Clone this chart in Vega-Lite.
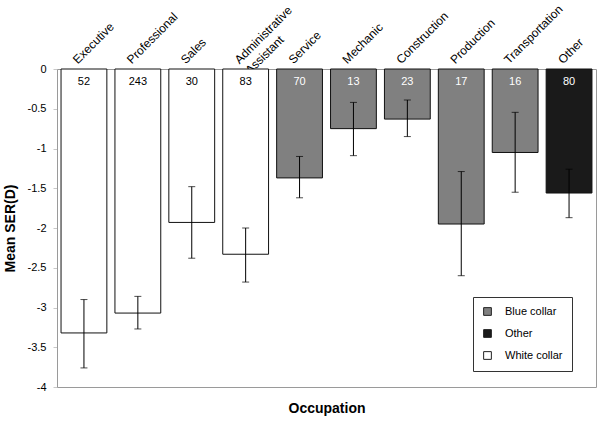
{
  "$schema": "https://vega.github.io/schema/vega-lite/v6.json",
  "width": 539,
  "height": 318,
  "autosize": "none",
  "padding": {"left": 57, "top": 69, "right": 5, "bottom": 35},
  "background": "white",
  "config": {
    "font": "Liberation Sans",
    "view": {"stroke": "#9a9a9a", "strokeWidth": 1},
    "axis": {"grid": false, "labelColor": "black", "titleColor": "black", "labelFont": "Liberation Sans", "titleFont": "Liberation Sans"},
    "axisTop": {
      "labelAngle": -45, "labelAlign": "left", "labelBaseline": "bottom", "labelPadding": 3, "labelOffset": -4,
      "labelFontSize": 12, "labelLineHeight": 15, "labelOverlap": false, "labelBound": false, "ticks": false, "domain": false, "zindex": 1
    },
    "axisY": {
      "titleFontSize": 14, "titleFontWeight": "bold", "titlePadding": 10,
      "labelOverlap": false, "labelFontSize": 11, "labelPadding": 7,
      "tickSize": 4, "tickColor": "#c8c8c8", "domainColor": "#9a9a9a"
    }
  },
  "data": {
    "values": [
      {"occupation": "Executive", "group": "White collar", "mean": -3.32, "lo": -3.76, "hi": -2.90, "n": 52},
      {"occupation": "Professional", "group": "White collar", "mean": -3.07, "lo": -3.27, "hi": -2.86, "n": 243},
      {"occupation": "Sales", "group": "White collar", "mean": -1.93, "lo": -2.38, "hi": -1.48, "n": 30},
      {"occupation": "Administrative Assistant", "group": "White collar", "mean": -2.33, "lo": -2.68, "hi": -2.00, "n": 83},
      {"occupation": "Service", "group": "Blue collar", "mean": -1.37, "lo": -1.62, "hi": -1.10, "n": 70},
      {"occupation": "Mechanic", "group": "Blue collar", "mean": -0.75, "lo": -1.09, "hi": -0.42, "n": 13},
      {"occupation": "Construction", "group": "Blue collar", "mean": -0.63, "lo": -0.85, "hi": -0.39, "n": 23},
      {"occupation": "Production", "group": "Blue collar", "mean": -1.95, "lo": -2.60, "hi": -1.29, "n": 17},
      {"occupation": "Transportation", "group": "Blue collar", "mean": -1.05, "lo": -1.55, "hi": -0.545, "n": 16},
      {"occupation": "Other", "group": "Other", "mean": -1.56, "lo": -1.87, "hi": -1.26, "n": 80}
    ]
  },
  "resolve": {"axis": {"x": "independent"}},
  "layer": [
    {
      "mark": {"type": "bar", "stroke": "#111", "strokeWidth": 1},
      "encoding": {
        "x": {
          "field": "occupation", "type": "nominal", "sort": null,
          "scale": {"paddingInner": 0.15, "paddingOuter": 0.075},
          "axis": {
            "orient": "top", "title": null,
            "labelExpr": "datum.value == 'Administrative Assistant' ? ['Administrative', 'Assistant'] : datum.value"
          }
        },
        "y": {
          "field": "mean", "type": "quantitative",
          "scale": {"domain": [-4, 0], "nice": false, "zero": false},
          "axis": {"title": "Mean SER(D)", "values": [-4, -3.5, -3, -2.5, -2, -1.5, -1, -0.5, 0], "labelExpr": "toString(datum.value)"}
        },
        "fill": {
          "field": "group", "type": "nominal",
          "scale": {"domain": ["Blue collar", "Other", "White collar"], "range": ["#808080", "#1a1a1a", "#ffffff"]},
          "legend": {
            "title": null, "orient": "none", "legendX": 416, "legendY": 228,
            "symbolType": "square", "symbolSize": 60, "symbolStrokeColor": "#222", "symbolStrokeWidth": 1,
            "labelFontSize": 11, "labelOffset": 12, "rowPadding": 9, "padding": 9,
            "strokeColor": "#333", "fillColor": "white",
            "labelExpr": "datum.label + '                        '"
          }
        }
      }
    },
    {
      "mark": {"type": "rule", "color": "black", "strokeWidth": 1},
      "encoding": {
        "x": {
          "field": "occupation", "type": "nominal", "sort": null,
          "axis": {"orient": "bottom", "title": "Occupation", "labels": false, "ticks": false, "domain": false,
                   "titleFontSize": 14, "titleFontWeight": "bold", "titlePadding": 14}
        },
        "y": {"field": "lo", "type": "quantitative", "axis": {"title": "Mean SER(D)", "values": [-4, -3.5, -3, -2.5, -2, -1.5, -1, -0.5, 0], "labelExpr": "toString(datum.value)"}},
        "y2": {"field": "hi"}
      }
    },
    {
      "mark": {"type": "tick", "color": "black", "size": 7, "thickness": 1},
      "encoding": {
        "x": {"field": "occupation", "type": "nominal", "sort": null, "axis": null},
        "y": {"field": "lo", "type": "quantitative", "axis": {"title": "Mean SER(D)", "values": [-4, -3.5, -3, -2.5, -2, -1.5, -1, -0.5, 0], "labelExpr": "toString(datum.value)"}}
      }
    },
    {
      "mark": {"type": "tick", "color": "black", "size": 7, "thickness": 1},
      "encoding": {
        "x": {"field": "occupation", "type": "nominal", "sort": null, "axis": null},
        "y": {"field": "hi", "type": "quantitative", "axis": {"title": "Mean SER(D)", "values": [-4, -3.5, -3, -2.5, -2, -1.5, -1, -0.5, 0], "labelExpr": "toString(datum.value)"}}
      }
    },
    {
      "mark": {"type": "text", "fontSize": 11, "baseline": "middle", "dy": 13},
      "encoding": {
        "x": {"field": "occupation", "type": "nominal", "sort": null, "axis": null},
        "y": {"datum": 0, "type": "quantitative", "axis": {"title": "Mean SER(D)", "values": [-4, -3.5, -3, -2.5, -2, -1.5, -1, -0.5, 0], "labelExpr": "toString(datum.value)"}},
        "text": {"field": "n", "type": "nominal"},
        "color": {
          "condition": {"test": "datum.group == 'White collar'", "value": "black"},
          "value": "white"
        }
      }
    }
  ]
}
